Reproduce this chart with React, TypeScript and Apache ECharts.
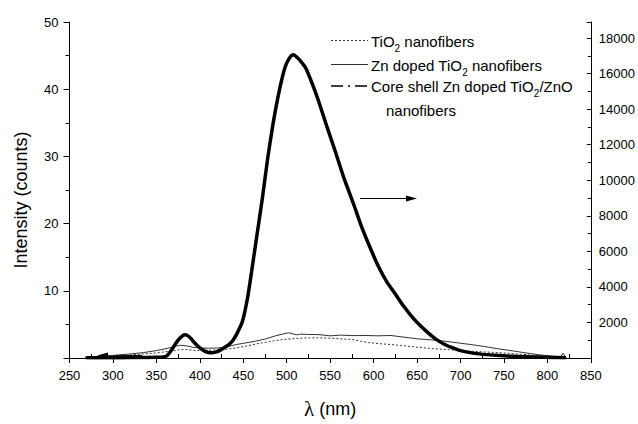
import React, { useEffect, useRef } from "react";
import * as echarts from "echarts";

// wavelength (nm) and intensities
const tio2Nm = [278, 290, 305, 320, 335, 350, 365, 375, 384, 392, 399, 410, 420, 430, 442, 453, 465, 476, 485, 495, 506, 516, 526, 537, 550, 562, 575, 585, 594, 605, 620, 632, 650, 670, 690, 708, 727, 747, 765, 785, 800, 812];
const tio2Val = [0.05, 0.15, 0.3, 0.45, 0.6, 0.75, 1.0, 1.2, 1.28, 1.15, 1.1, 1.15, 1.2, 1.3, 1.5, 1.76, 2.1, 2.35, 2.55, 2.75, 2.85, 2.95, 3.0, 3.0, 2.95, 2.85, 2.75, 2.5, 2.3, 2.15, 2.0, 1.86, 1.6, 1.37, 1.2, 1.03, 0.9, 0.78, 0.6, 0.4, 0.25, 0.12];

const znNm = [278, 290, 305, 320, 335, 350, 365, 372, 378, 385, 392, 400, 410, 422, 432, 442, 453, 464, 476, 487, 495, 502, 507, 511, 516, 525, 537, 550, 562, 575, 590, 605, 620, 635, 651, 666, 682, 697, 712, 728, 743, 758, 773, 789, 804, 815, 818, 821];
const znVal = [0.1, 0.25, 0.45, 0.6, 0.8, 1.1, 1.5, 1.75, 1.9, 1.8, 1.6, 1.5, 1.45, 1.5, 1.7, 2.0, 2.25, 2.5, 2.85, 3.3, 3.55, 3.75, 3.6, 3.45, 3.55, 3.5, 3.48, 3.3, 3.4, 3.33, 3.35, 3.3, 3.35, 3.1, 2.85, 2.7, 2.5, 2.25, 2.0, 1.7, 1.37, 1.1, 0.8, 0.5, 0.3, 0.15, 0.7, 0.1];

const coreNm = [270, 290, 310, 330, 350, 358, 362, 366, 370, 375, 380, 383, 386, 390, 395, 400, 405, 410, 413, 418, 423, 428, 433, 438, 443, 449, 455, 460, 466, 472, 478, 484, 490, 496, 500, 505, 508, 512, 516, 522, 530, 537, 546, 556, 566, 577, 586, 596, 606, 615, 625, 634, 644, 653, 663, 672, 682, 692, 701, 716, 730, 746, 760, 785, 805, 820];
const coreVal = [20, 20, 20, 30, 40, 60, 120, 350, 650, 1000, 1250, 1310, 1260, 1080, 800, 570, 400, 310, 295, 330, 430, 580, 740, 980, 1400, 2050, 3400, 5000, 7000, 9000, 11200, 13100, 14700, 16000, 16600, 17000, 17060, 16900, 16700, 16300, 15350, 14400, 13050, 11600, 10100, 8650, 7400, 6200, 5100, 4300, 3600, 2950, 2330, 1850, 1400, 1050, 760, 550, 400, 260, 190, 140, 95, 55, 30, 15];

const xTicks = { min: 250, max: 850, step: 50 };
const leftTicks = { min: 0, max: 50, step: 10 };
const rightTicks = { min: 0, max: 18900, step: 2000 };

const legendNames = ["TiO{s|2} nanofibers", "Zn doped TiO{s|2} nanofibers", "Core shell Zn doped TiO{s|2}/ZnO"];

const FONT = "Liberation Sans, Arial, Helvetica, sans-serif";

function pairs(xs: number[], ys: number[]) {
  return xs.map((x, i) => [x, ys[i]]);
}

export default function App() {
  const ref = useRef<HTMLDivElement>(null);
  useEffect(() => {
    if (!ref.current) return;
    const chart = echarts.init(ref.current, null, { renderer: "svg" });
    const rich = {
      s: { fontSize: 10, fontFamily: FONT, color: "#000", verticalAlign: "bottom", lineHeight: 10, padding: [0, 0, -5, 0] },
    };
    const legendText = (text: string, x: number, y: number) => ({
      type: "text",
      x,
      y,
      style: { text, fontSize: 15, fontFamily: FONT, fill: "#000", verticalAlign: "middle", align: "left", rich },
    });
    chart.setOption({
      animation: false,
      backgroundColor: "#fff",
      textStyle: { fontFamily: FONT },
      grid: { left: 69.5, right: 45, top: 22, bottom: 62 },
      xAxis: [
        {
          type: "value",
          position: "bottom",
          min: xTicks.min,
          max: xTicks.max,
          interval: xTicks.step,
          axisLine: { show: true, lineStyle: { color: "#000", width: 1 } },
          axisTick: { show: true, length: 5, inside: false, lineStyle: { color: "#000" } },
          axisLabel: { fontSize: 13, color: "#000", margin: 11, fontFamily: FONT },
          splitLine: { show: false },
          name: "{l|λ} (nm)",
          nameLocation: "middle",
          nameGap: 40,
          nameTextStyle: {
            fontSize: 18,
            color: "#000",
            fontFamily: FONT,
            rich: { l: { fontSize: 21, fontFamily: "Liberation Serif, serif", color: "#000" } },
          },
        },
        {
          type: "value",
          position: "bottom",
          min: xTicks.min,
          max: xTicks.max,
          interval: xTicks.step,
          axisLine: { show: false },
          axisTick: { show: false, inside: true },
          minorTick: { show: true, splitNumber: 2, length: 4, lineStyle: { color: "#000" } },
          axisLabel: { show: false },
          splitLine: { show: false },
        },
      ],
      yAxis: [
        {
          type: "value",
          position: "left",
          min: leftTicks.min,
          max: leftTicks.max,
          interval: leftTicks.step,
          axisLine: { show: true, lineStyle: { color: "#000", width: 1 } },
          axisTick: { show: true, length: 6, inside: false, lineStyle: { color: "#000" } },
          minorTick: { show: true, splitNumber: 2, length: 4, lineStyle: { color: "#000" } },
          axisLabel: {
            fontSize: 13,
            color: "#000",
            margin: 11,
            fontFamily: FONT,
            formatter: (v: number) => (v === 0 ? "" : String(v)),
          },
          splitLine: { show: false },
          name: "Intensity (counts)",
          nameLocation: "middle",
          nameGap: 40,
          nameTextStyle: { fontSize: 18, color: "#000", fontFamily: FONT, padding: [0, 20, 0, 0] },
        },
        {
          type: "value",
          position: "right",
          min: rightTicks.min,
          max: rightTicks.max,
          interval: rightTicks.step,
          axisLine: { show: true, lineStyle: { color: "#000", width: 1 } },
          axisTick: { show: true, length: 4, inside: true, lineStyle: { color: "#000" } },
          minorTick: { show: true, splitNumber: 2, length: 3, lineStyle: { color: "#000" } },
          axisLabel: {
            fontSize: 13,
            color: "#000",
            margin: 8,
            fontFamily: FONT,
            showMaxLabel: false,
            formatter: (v: number) => (v === 0 || v % rightTicks.step !== 0 ? "" : String(v)),
          },
          splitLine: { show: false },
        },
      ],
      series: [
        {
          name: "TiO2 nanofibers",
          type: "line",
          xAxisIndex: 0,
          yAxisIndex: 0,
          data: pairs(tio2Nm, tio2Val),
          showSymbol: false,
          lineStyle: { color: "#333", width: 1, type: [2, 2] },
        },
        {
          name: "Zn doped TiO2 nanofibers",
          type: "line",
          xAxisIndex: 0,
          yAxisIndex: 0,
          data: pairs(znNm, znVal),
          showSymbol: false,
          lineStyle: { color: "#333", width: 1 },
        },
        {
          name: "Core shell Zn doped TiO2/ZnO nanofibers",
          type: "line",
          xAxisIndex: 0,
          yAxisIndex: 1,
          data: pairs(coreNm, coreVal),
          showSymbol: false,
          smooth: 0.2,
          lineStyle: { color: "#000", width: 3.5, join: "round", cap: "round" },
        },
      ],
      graphic: [
        { type: "line", shape: { x1: 331, y1: 40.5, x2: 368, y2: 40.5 }, style: { stroke: "#333", lineWidth: 1, lineDash: [2, 2] } },
        legendText(legendNames[0], 371, 41),
        { type: "line", shape: { x1: 331, y1: 64.5, x2: 368, y2: 64.5 }, style: { stroke: "#333", lineWidth: 1 } },
        legendText(legendNames[1], 371, 65),
        { type: "line", shape: { x1: 331, y1: 86, x2: 368, y2: 86 }, style: { stroke: "#000", lineWidth: 1.5, lineDash: [12, 5, 2, 5] } },
        legendText(legendNames[2], 371, 86),
        legendText("nanofibers", 386, 110.5),
        // arrows pointing to each axis
        { type: "line", shape: { x1: 142, y1: 355.5, x2: 104, y2: 355.5 }, style: { stroke: "#000", lineWidth: 1.2 } },
        { type: "polygon", shape: { points: [[97, 355.5], [108, 352.5], [108, 358.5]] }, style: { fill: "#000" } },
        { type: "line", shape: { x1: 360, y1: 198.5, x2: 410, y2: 198.5 }, style: { stroke: "#000", lineWidth: 1.2 } },
        { type: "polygon", shape: { points: [[417, 198.5], [406, 195.5], [406, 201.5]] }, style: { fill: "#000" } },
      ],
    });
    return () => chart.dispose();
  }, []);
  return <div ref={ref} style={{ width: 638, height: 424, position: "absolute", left: 0, top: 0 }} />;
}
